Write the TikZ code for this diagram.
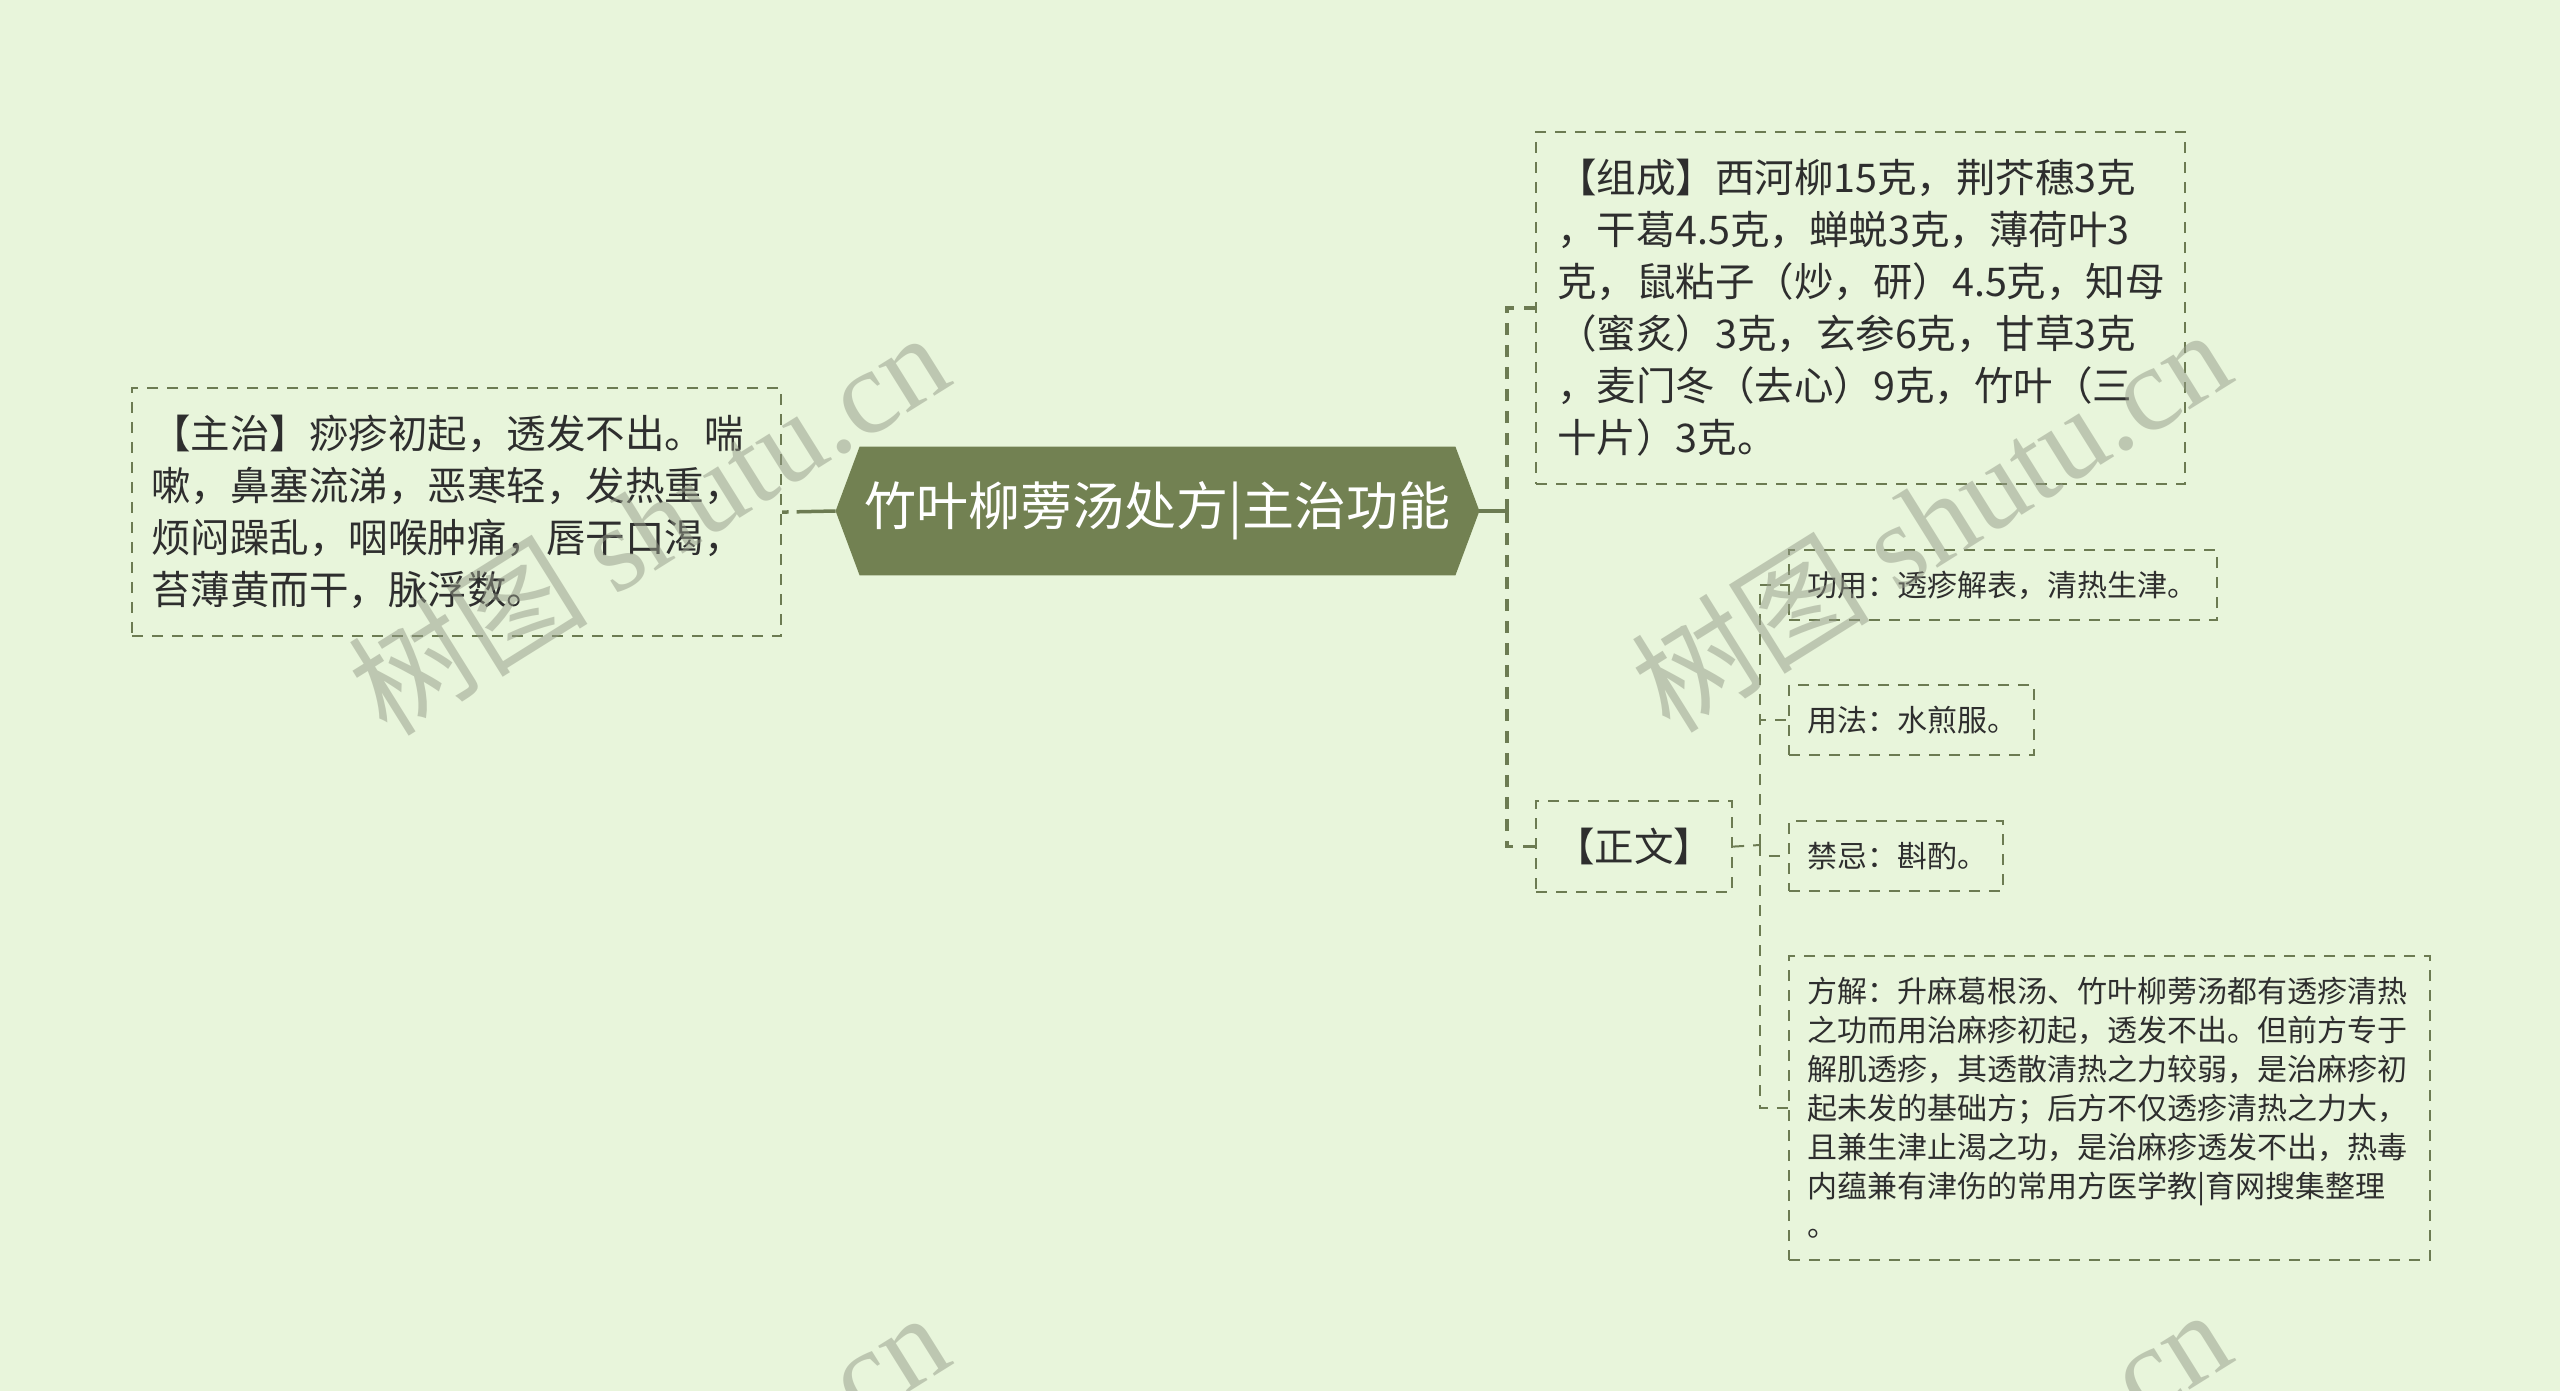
\documentclass[tikz,border=0pt]{standalone}
\usepackage{fontspec}
\setmainfont{Noto Sans CJK SC}
\newfontfamily\wmserif{Liberation Serif}
\usetikzlibrary{backgrounds}
\definecolor{pagebg}{HTML}{E8F5DB}
\definecolor{olive}{HTML}{728152}
\definecolor{lineol}{HTML}{6C7B52}
\definecolor{txt}{HTML}{2E2E2E}
\definecolor{wm}{HTML}{949B88}
\newcommand{\bigtxt}{\fontsize{19.75pt}{26pt}\selectfont}
\newcommand{\smalltxt}{\fontsize{15pt}{19.5pt}\selectfont}
\newcommand{\centertxt}{\fontsize{26pt}{30pt}\selectfont}
\begin{document}
\begin{tikzpicture}[x=0.5pt,y=-0.5pt,
  box/.style={draw=lineol, line width=1.1pt, dash pattern=on 5.5pt off 4.5pt,
    anchor=north west, align=left, text=txt, inner ysep=0pt},
  bigbox/.style={box, font=\bigtxt, inner xsep=9.5pt},
  smallbox/.style={box, font=\smalltxt, inner xsep=9pt},
  conn/.style={draw=lineol, line width=1.75pt},
  dconn/.style={draw=lineol, line width=1.6pt, dash pattern=on 6pt off 5pt},
  sconn/.style={draw=lineol, line width=1pt, dash pattern=on 5.5pt off 4.5pt},
  wmark/.style={text=wm, opacity=0.5, rotate=32, inner sep=0pt,
    font=\fontsize{60pt}{60pt}\selectfont}]
\useasboundingbox (0,0) rectangle (2560,1391);
\begin{scope}[on background layer]
\fill[pagebg] (0,0) rectangle (2560,1391);
\end{scope}

% central topic
\node[text=white, font=\centertxt, minimum width=321.5pt, minimum height=64pt, inner sep=0pt]
  (C) at (1157.5,511) {竹叶柳蒡汤处方|主治功能};
\begin{scope}[on background layer]
\fill[olive] (C.west) -- ([xshift=12pt]C.north west) -- ([xshift=-12pt]C.north east)
  -- (C.east) -- ([xshift=-12pt]C.south east) -- ([xshift=12pt]C.south west) -- cycle;
\end{scope}

% left
\node[bigbox, text width=305.5pt, minimum height=124pt] (L) at (131,387)
  {【主治】痧疹初起，透发不出。喘\\嗽，鼻塞流涕，恶寒轻，发热重，\\烦闷躁乱，咽喉肿痛，唇干口渴，\\苔薄黄而干，脉浮数。};

% right level 1
\node[bigbox, inner xsep=10.5pt, text width=303.5pt, minimum height=176pt] (Z) at (1535,131)
  {【组成】西河柳15克，荆芥穗3克\\，干葛4.5克，蝉蜕3克，薄荷叶3\\克，鼠粘子（炒，研）4.5克，知母\\（蜜炙）3克，玄参6克，甘草3克\\，麦门冬（去心）9克，竹叶（三\\十片）3克。};
\node[box, font=\bigtxt, align=center, minimum width=98pt, minimum height=45.5pt, inner xsep=0pt] (W) at (1535,800) {【正文】};

% right level 2
\node[smallbox, text width=196pt, minimum height=35pt] (G) at (1788,549) {功用：透疹解表，清热生津。};
\node[smallbox, text width=104.5pt, minimum height=35pt] (Y) at (1788,684) {用法：水煎服。};
\node[smallbox, text width=89pt, minimum height=35pt] (J) at (1788,820) {禁忌：斟酌。};
\node[smallbox, text width=302.5pt, minimum height=152pt] (F) at (1788,955)
  {方解：升麻葛根汤、竹叶柳蒡汤都有透疹清热\\之功而用治麻疹初起，透发不出。但前方专于\\解肌透疹，其透散清热之力较弱，是治麻疹初\\起未发的基础方；后方不仅透疹清热之力大，\\且兼生津止渴之功，是治麻疹透发不出，热毒\\内蕴兼有津伤的常用方医学教|育网搜集整理\\。};

% connectors
\coordinate (J1) at (1507,511);
\coordinate (J2) at (1760,845);
\draw[conn, dash pattern=on 19.5pt off 4pt on 4.5pt off 0pt] (C.west) -- (L.east);
\draw[conn] (C.east) -- (J1);
\draw[dconn] (J1) |- (Z.west);
\draw[dconn] (J1) |- (W.west);
\draw[sconn] (W.east) -- (J2);
\draw[sconn] (J2) |- (G.west);
\draw[sconn] (J2) |- (Y.west);
\draw[sconn] (J2) |- (J.west);
\draw[sconn] (J2) |- (F.west);

% watermarks
\begin{scope}
\clip (0,0) rectangle (2560,1391);
\node[wmark] (wm1) at (648,522) {树图 {\wmserif shutu.cn}};
\node[wmark] (wm2) at (1930,519) {树图 {\wmserif shutu.cn}};
\node[wmark] (wm3) at (648,1502) {树图 {\wmserif shutu.cn}};
\node[wmark] (wm4) at (1930,1499) {树图 {\wmserif shutu.cn}};
\end{scope}
\end{tikzpicture}
\end{document}
